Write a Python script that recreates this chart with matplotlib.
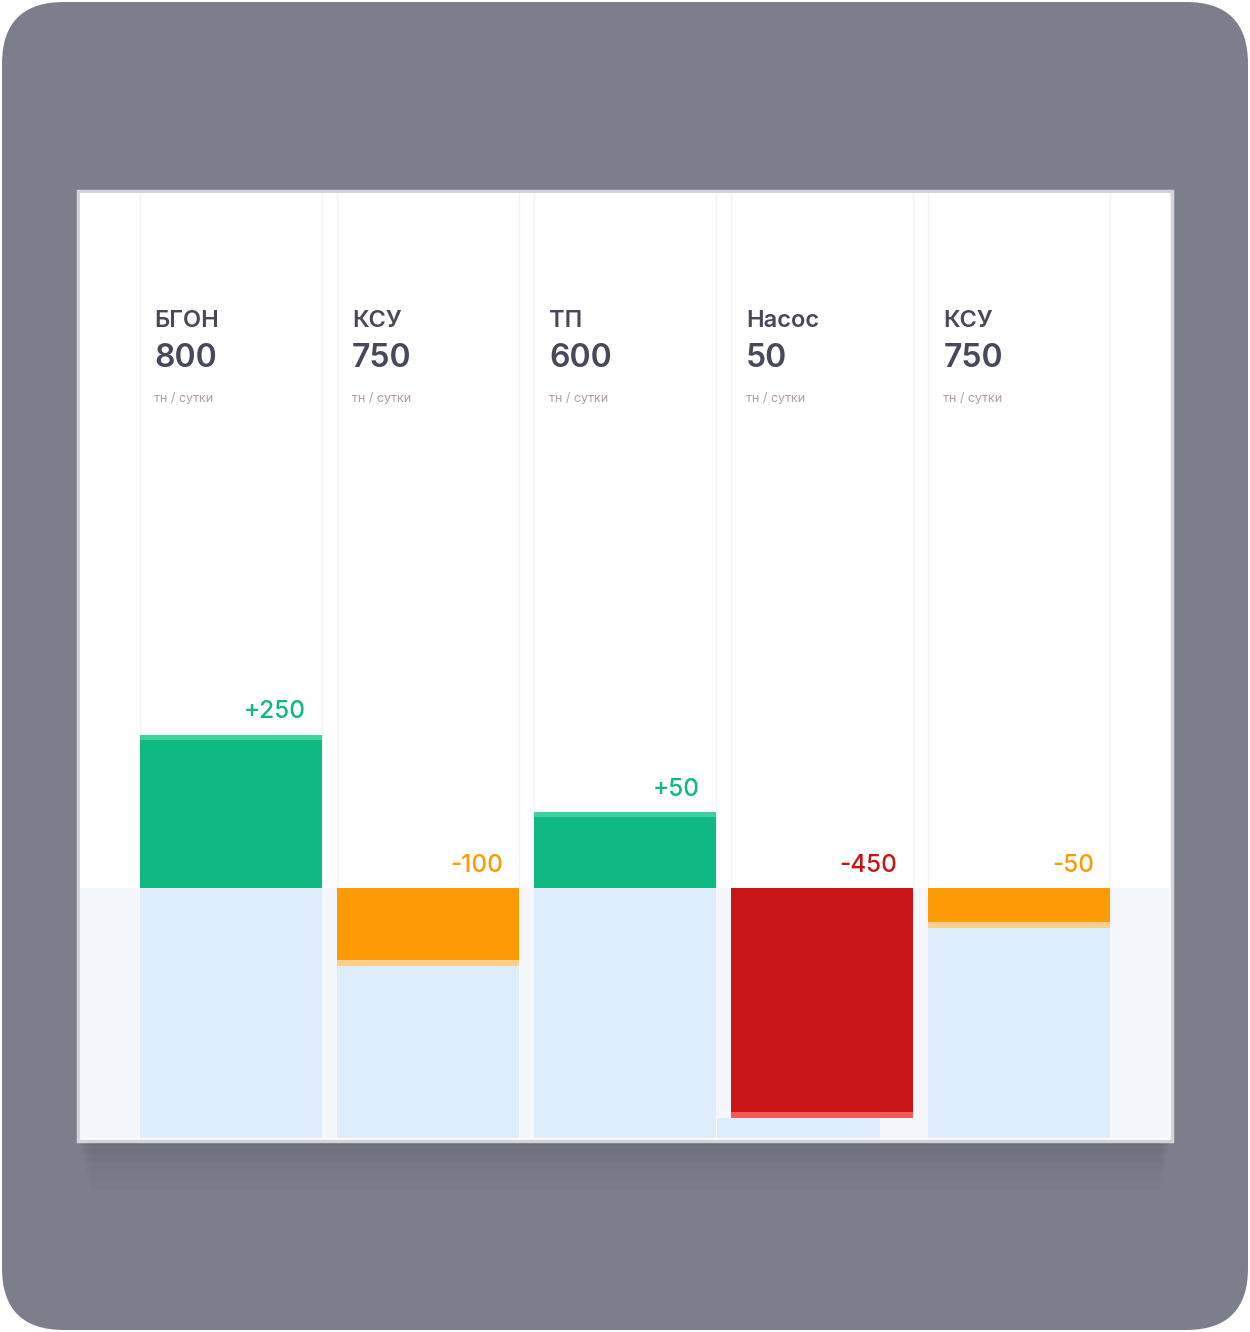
import matplotlib
matplotlib.use("Agg")
import matplotlib.pyplot as plt
from matplotlib.patches import FancyBboxPatch, Rectangle
import matplotlib.transforms as mtransforms

# ---- data ----
categories = ["БГОН", "КСУ", "ТП", "Насос", "КСУ"]
values = [800, 750, 600, 50, 750]
deltas = [250, -100, 50, -450, -50]
# displayed bar lengths (chart units)
bar_len = [250, -127, 124, -376, -65]
unit_label = "тн / сутки"

GREEN, GREEN_CAP = "#0fb981", "#3fd19c"
ORANGE, ORANGE_CAP = "#fc9b05", "#fdcf8e"
RED, RED_CAP = "#c91515", "#f15a55"
LIGHT_BLUE = "#deedfb"
BAND = "#f4f8fc"
TEXT_DARK = "#474859"
TEXT_UNIT = "#b39ba9"

plt.rcParams["font.family"] = ["Inter", "DejaVu Sans"]

W, H = 1250, 1332
fig = plt.figure(figsize=(W / 100, H / 100), dpi=100)
fig.patch.set_facecolor("white")

# background axes in pixel coordinates
bg = fig.add_axes([0, 0, 1, 1])
bg.set_xlim(0, W)
bg.set_ylim(H, 0)
bg.axis("off")
bg.add_patch(FancyBboxPatch((2, 2), W - 4, H - 4,
                            boxstyle="round,pad=0,rounding_size=62",
                            fc="#7d7e8b", ec="none"))
# soft shadow under the panel
for i, a in enumerate([0.06, 0.05, 0.04, 0.03, 0.02, 0.015]):
    bg.add_patch(Rectangle((80 + i * 2, 195 + i * 4), 1090 - i * 4, 950 + i * 5,
                           fc="#3a3b48", ec="none", alpha=a))
bg.add_patch(Rectangle((78, 191), 1094, 950, fc="white", ec="#d3d4d9", lw=2.5))

# chart axes inside the panel
ax_l, ax_r, ax_t, ax_b = 80, 1170, 193, 1138
ax = fig.add_axes([ax_l / W, (H - ax_b) / H, (ax_r - ax_l) / W, (ax_b - ax_t) / H])
ax.set_facecolor("white")
px_per_unit = 0.612
base_px = 888
ax.set_ylim(-(ax_b - base_px) / px_per_unit, (base_px - ax_t) / px_per_unit)
spacing = 197.25
c0 = 230.5
ax.set_xlim(-(c0 - ax_l) / spacing, (ax_r - c0) / spacing)
for s in ax.spines.values():
    s.set_visible(False)
ax.set_xticks([])
ax.set_yticks([])

ymin, ymax = ax.get_ylim()
width = 182 / spacing
cap = 6 / px_per_unit

ax.axhspan(ymin, 0, color=BAND, lw=0, zorder=0)

tr = mtransforms.blended_transform_factory(ax.transData, ax.transAxes)
x = list(range(len(categories)))
for i in x:
    left, right = i - width / 2, i + width / 2
    for xe in (left, right):
        ax.plot([xe, xe], [0, ymax], color="#f0f3f7", lw=1.0, zorder=1)
    L = bar_len[i]
    d = deltas[i]
    if d > 0:
        ax.bar(i, 0 - ymin, bottom=ymin, width=width, color=LIGHT_BLUE, lw=0, zorder=2)
        ax.bar(i, L, bottom=0, width=width, color=GREEN, lw=0, zorder=3)
        ax.bar(i, cap * 0.75, bottom=L - cap * 0.75, width=width, color=GREEN_CAP, lw=0, zorder=4)
        col = GREEN
        ytxt = L
    else:
        big = d <= -300
        main, capc = (RED, RED_CAP) if big else (ORANGE, ORANGE_CAP)
        if big:
            ax.bar(i - 0.12, L - ymin, bottom=ymin, width=0.83, color=LIGHT_BLUE, lw=0, zorder=2)
        else:
            ax.bar(i, L - ymin, bottom=ymin, width=width, color=LIGHT_BLUE, lw=0, zorder=2)
        ax.bar(i, L, bottom=0, width=width, color=main, lw=0, zorder=3)
        ax.bar(i, cap, bottom=L, width=width, color=capc, lw=0, zorder=4)
        col = main
        ytxt = 0
    label = f"+{d}" if d > 0 else f"{d}"
    ax.annotate(label, (right, ytxt), xytext=(-16, 23), textcoords="offset pixels",
                ha="right", va="center", fontsize=17.5, fontweight="medium",
                color=col, zorder=5)

    ax.annotate(categories[i], (left, 0.865), xycoords=tr, xytext=(15, 0),
                textcoords="offset pixels", ha="left", va="center",
                fontsize=17, fontweight="semibold", color=TEXT_DARK)
    ax.annotate(str(values[i]), (left, 0.8245), xycoords=tr, xytext=(15, 0),
                textcoords="offset pixels", ha="left", va="center",
                fontsize=23, fontweight="semibold", color=TEXT_DARK)
    ax.annotate(unit_label, (left, 0.782), xycoords=tr, xytext=(15, 0),
                textcoords="offset pixels", ha="left", va="center",
                fontsize=9, color=TEXT_UNIT)

fig.savefig("out.png", dpi=100, facecolor=fig.get_facecolor())
